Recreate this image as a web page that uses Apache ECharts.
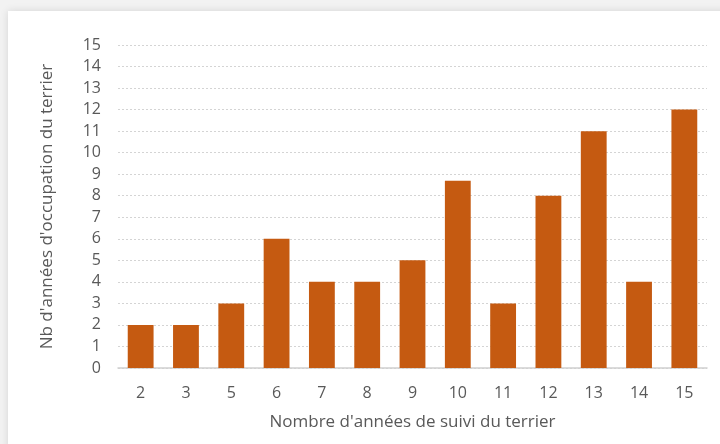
<!DOCTYPE html>
<html>
<head>
<meta charset="utf-8">
<script src="https://cdn.jsdelivr.net/npm/echarts@6/dist/echarts.min.js"></script>
<style>
  html, body { margin: 0; padding: 0; background: #f2f2f2; }
  #chart { width: 720px; height: 444px; }
</style>
</head>
<body>
<div id="chart"></div>
<script>
// données
var categories = ['2', '3', '5', '6', '7', '8', '9', '10', '11', '12', '13', '14', '15'];
var occupation = [2, 2, 3, 6, 4, 4, 5, 8.7, 3, 8, 11, 4, 12];

var myChart = echarts.init(document.getElementById('chart'));
var txt = '#595959';
var font = '"Open Sans", "Noto Sans", sans-serif';

option = {
    backgroundColor: '#f2f2f2',
    textStyle: { fontFamily: font },
    graphic: [
        {
            type: 'rect',
            z: -10,
            shape: { x: 8, y: 11, width: 720, height: 440 },
            style: { fill: '#ffffff', shadowBlur: 8, shadowColor: 'rgba(0,0,0,0.12)' }
        }
    ],
    grid: {
        left: 118,
        right: 13,
        top: 45,
        bottom: 76
    },
    xAxis: {
        type: 'category',
        data: categories,
        name: "Nombre d'années de suivi du terrier",
        nameLocation: 'middle',
        nameGap: 46,
        nameTextStyle: { color: txt, fontSize: 17, fontFamily: font },
        axisLine: { lineStyle: { color: '#d0d0d0', width: 1.5 } },
        axisTick: { show: false },
        axisLabel: { color: txt, fontSize: 16, margin: 17, fontFamily: font }
    },
    yAxis: {
        type: 'value',
        min: 0,
        max: 15,
        interval: 1,
        name: "Nb d'années d'occupation du terrier",
        nameLocation: 'middle',
        nameGap: 62,
        nameTextStyle: { color: txt, fontSize: 17, fontFamily: font },
        axisLine: { show: false },
        axisTick: { show: false },
        axisLabel: { color: txt, fontSize: 16, margin: 17, fontFamily: font },
        splitLine: { lineStyle: { color: '#d4d4d4', type: [2, 2], width: 1 } }
    },
    series: [
        {
            name: 'occupation',
            type: 'bar',
            data: occupation,
            barWidth: '57%',
            itemStyle: { color: '#c55a11' }
        }
    ]
};
myChart.setOption(option);
</script>
</body>
</html>
